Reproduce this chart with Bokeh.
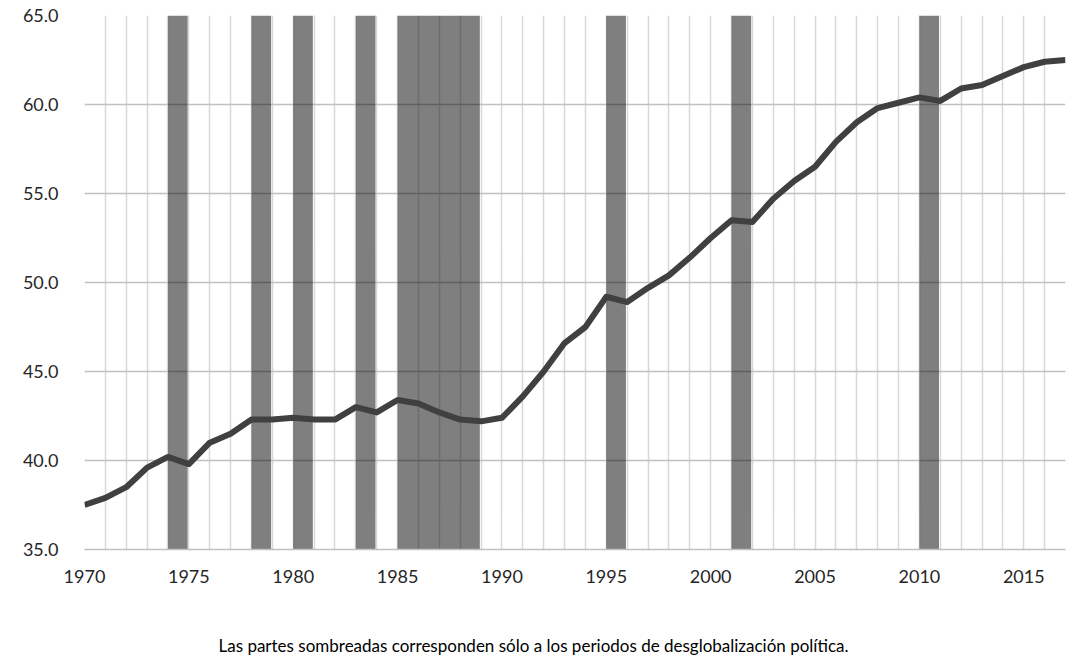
from bokeh.plotting import figure
from bokeh.models import FixedTicker, SingleIntervalTicker, PrintfTickFormatter, Range1d, Title
from bokeh.embed import file_html
from bokeh.resources import INLINE

years = list(range(1970, 2018))
values = [37.5, 37.9, 38.5, 39.6, 40.2, 39.8, 41.0, 41.5, 42.3, 42.3,
          42.4, 42.3, 42.3, 43.0, 42.7, 43.4, 43.2, 42.7, 42.3, 42.2,
          42.4, 43.6, 45.0, 46.6, 47.5, 49.2, 48.9, 49.7, 50.4, 51.4,
          52.5, 53.5, 53.4, 54.7, 55.7, 56.5, 57.9, 59.0, 59.8, 60.1,
          60.4, 60.2, 60.9, 61.1, 61.6, 62.1, 62.4, 62.5]
shade_start = [1974, 1978, 1980, 1983, 1985, 1995, 2001, 2010]
shade_end = [1975, 1979, 1981, 1984, 1989, 1996, 2002, 2011]
x_ticks = [1970, 1975, 1980, 1985, 1990, 1995, 2000, 2005, 2010, 2015]
y_ticks = [35, 40, 45, 50, 55, 60, 65]
caption = "Las partes sombreadas corresponden sólo a los periodos de desglobalización política."

FONT = "Lato"
TXT = "#262626"

p = figure(width=1072, height=655, output_backend="svg", toolbar_location=None,
           x_range=Range1d(1970, 2017), y_range=Range1d(35, 65),
           min_border_left=84, min_border_right=7, min_border_top=15, min_border_bottom=106)
p.outline_line_color = None
p.background_fill_color = "white"
p.border_fill_color = "white"

# grids
p.xgrid.ticker = SingleIntervalTicker(interval=1, num_minor_ticks=0)
p.xgrid.grid_line_color = "#d8d8d8"
p.xgrid.grid_line_width = 1.5
p.ygrid.ticker = FixedTicker(ticks=y_ticks)
p.ygrid.grid_line_color = "#c0c0c0"
p.ygrid.grid_line_width = 1.5

# shaded periods (semi-transparent so gridlines show through darker)
p.quad(left=shade_start, right=[e - 0.06 for e in shade_end], bottom=35, top=65,
       fill_color="#000000", fill_alpha=0.5, line_color=None)

p.line(years, values, line_color="#404040", line_width=6, line_join="round")

# axes
p.xaxis.ticker = FixedTicker(ticks=x_ticks)
p.yaxis.ticker = FixedTicker(ticks=y_ticks)
p.yaxis.formatter = PrintfTickFormatter(format="%.1f")
for ax in (p.xaxis[0], p.yaxis[0]):
    ax.major_tick_line_color = None
    ax.minor_tick_line_color = None
    ax.major_label_text_font = FONT
    ax.major_label_text_font_size = "18px"
    ax.major_label_text_color = TXT
p.yaxis.axis_line_color = None
p.xaxis.axis_line_color = "#c0c0c0"
p.xaxis.axis_line_width = 1.5
p.yaxis.major_label_standoff = 20
p.xaxis.major_label_standoff = 14

spacer = Title(text=" ", text_font=FONT, text_font_size="37px", standoff=0)
p.add_layout(spacer, "below")
t = Title(text=caption, align="left", text_font=FONT, text_font_size="17px",
          text_font_style="normal", text_color="#000000", standoff=0, offset=134)
p.add_layout(t, "below")

open("out.html", "w").write(file_html(p, INLINE))
